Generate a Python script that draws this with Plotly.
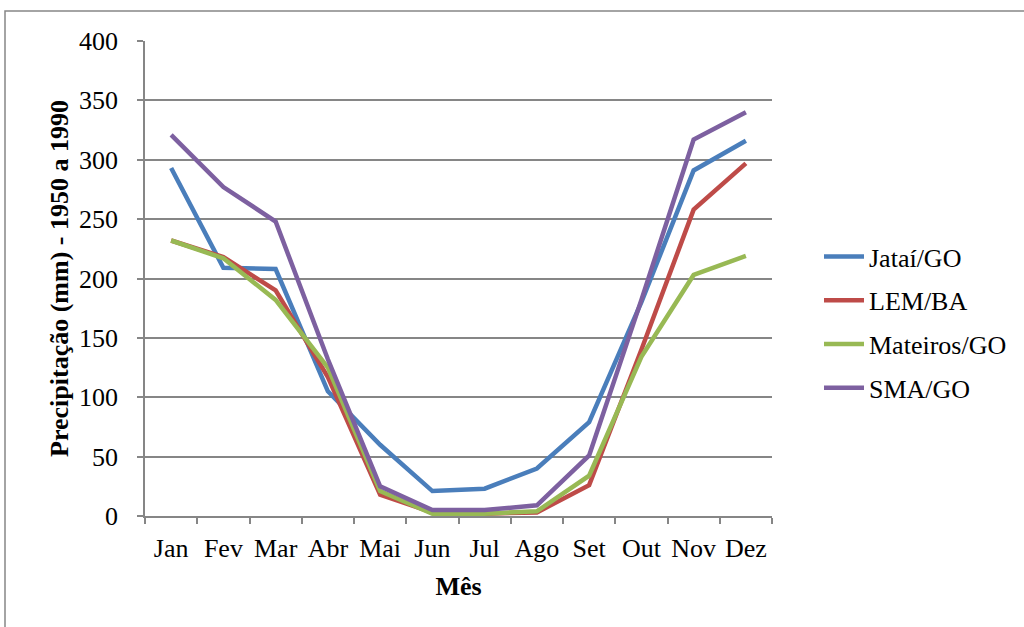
import plotly.graph_objects as go

meses = ["Jan", "Fev", "Mar", "Abr", "Mai", "Jun", "Jul", "Ago", "Set", "Out", "Nov", "Dez"]
jatai = [293, 209, 208, 105, 60, 21, 23, 40, 79, 180, 291, 316]
lem = [232, 218, 190, 117, 18, 3, 2, 3, 26, 140, 258, 297]
mateiros = [232, 217, 182, 125, 21, 2, 2, 4, 34, 134, 203, 219]
sma = [321, 277, 248, 132, 25, 5, 5, 9, 51, 182, 317, 340]

series = [
    ("Jataí/GO", jatai, "#4A7EBB"),
    ("LEM/BA", lem, "#BE4B48"),
    ("Mateiros/GO", mateiros, "#98B954"),
    ("SMA/GO", sma, "#7D60A0"),
]

fig = go.Figure()
for name, vals, color in series:
    fig.add_trace(go.Scatter(x=meses, y=vals, name=name, mode="lines",
                             legendgroup=name,
                             line=dict(color=color, width=4.5)))

font = "Liberation Serif, Times New Roman, serif"
FS = 26
L, R, T, B = 145, 772, 41, 516
W, H = 1024, 627
pw, ph = R - L, B - T

fig.update_layout(
    width=W, height=H,
    margin=dict(l=L, r=W - R, t=T, b=H - B, pad=0, autoexpand=False),
    paper_bgcolor="white", plot_bgcolor="white",
    font=dict(family=font, size=FS, color="black"),
    showlegend=True,
    legend=dict(x=(819 - L) / pw, y=(B - 233) / ph, xanchor="left", yanchor="top",
                font=dict(size=FS, family=font), tracegroupgap=7, itemwidth=40,
                bgcolor="rgba(0,0,0,0)"),
    xaxis=dict(
        type="category", tickson="boundaries", ticks="outside", ticklen=6,
        tickcolor="#868686", tickwidth=1.5, showline=True, linecolor="#868686",
        linewidth=1.5, showgrid=False, tickfont=dict(size=FS, family=font),
        tickangle=0, ticklabelstandoff=8,
        title=dict(text="<b>Mês</b>", font=dict(size=FS, family=font), standoff=15),
        range=[-0.5, 11.5],
    ),
    yaxis=dict(
        range=[0, 400], dtick=50, ticks="outside", ticklen=6, tickcolor="#868686",
        tickwidth=1.5, showline=True, linecolor="#868686", linewidth=1.5,
        showgrid=True, gridcolor="#868686", gridwidth=1.5, zeroline=False,
        tickfont=dict(size=FS, family=font), ticklabelstandoff=14,
        title=dict(text="<b>Precipitação (mm) - 1950 a 1990</b>",
                   font=dict(size=FS, family=font), standoff=3),
    ),
    shapes=[dict(type="rect", xref="paper", yref="paper",
                 x0=(5 - L) / pw, x1=(1040 - L) / pw,
                 y0=(B - 650) / ph, y1=(B - 11) / ph,
                 line=dict(color="#868686", width=1.5), layer="below")],
)

fig.write_html("out.html", config={"displayModeBar": False},
               post_script="document.body.style.margin='0';")
